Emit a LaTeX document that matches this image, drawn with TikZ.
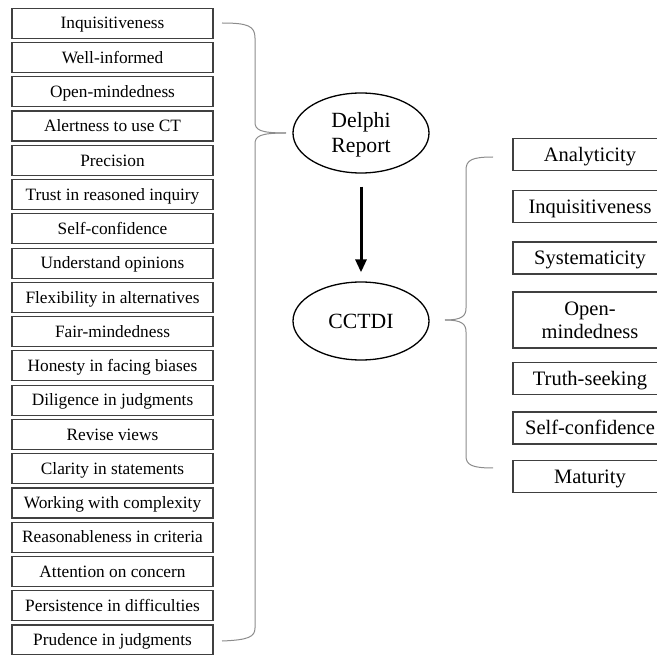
\documentclass[tikz,border=0pt]{standalone}
\usepackage{fontspec}
\setmainfont{Liberation Serif}
\usetikzlibrary{shapes.geometric,arrows.meta}

\tikzset{
  leftbox/.style={draw=black!75, line width=1.2pt, minimum width=201pt, minimum height=30pt,
    inner sep=0pt, text height=15pt, text depth=3.6pt,
    font=\fontsize{17.3}{20}\selectfont, text=black},
  rightbox/.style={draw=black!75, line width=1.2pt, minimum width=154pt, minimum height=32pt,
    inner sep=0pt, font=\fontsize{20.5}{23}\selectfont, text=black, align=center},
  oneline/.style={text height=17pt, text depth=3.4pt},
  oval/.style={ellipse, draw=black, line width=1.3pt, minimum width=136pt, minimum height=80pt,
    inner sep=0pt, font=\fontsize{21.7}{25}\selectfont, align=center},
  bracket/.style={draw=black!45, line width=1pt},
  flow/.style={line width=3pt, -{Triangle[length=13pt,width=11pt]}}
}

\begin{document}
\begin{tikzpicture}[x=1pt,y=-1pt]
\useasboundingbox (0,0) rectangle (657,655);
\clip (0,0) rectangle (657,655);

% Delphi dispositions, one box per row
\foreach \txt [count=\i from 0] in {
  Inquisitiveness, Well-informed, Open-mindedness, Alertness to use CT, Precision,
  Trust in reasoned inquiry, Self-confidence, Understand opinions,
  Flexibility in alternatives, Fair-mindedness, Honesty in facing biases,
  Diligence in judgments, Revise views, Clarity in statements,
  Working with complexity, Reasonableness in criteria, Attention on concern,
  Persistence in difficulties, Prudence in judgments}
  \node[leftbox] (d\i) at (112.5, 23.3+34.26*\i) {\txt};

% the two central instruments
\node[oval] (delphi) at (361,133) {\rule{0pt}{18pt}Delphi\\Report};
\node[oval, minimum height=78pt] (cctdi) at (361,321) {CCTDI};
\draw[flow, shorten <=13pt, shorten >=9pt] (delphi) -- (cctdi);

% CCTDI subscales
\node[rightbox, oneline] (r1) at (590,154.5) {Analyticity};
\node[rightbox, oneline] (r2) at (590,206.5) {Inquisitiveness};
\node[rightbox, oneline] (r3) at (590,258) {Systematicity};
\node[rightbox, minimum height=56pt] (r4) at (590,320) {Open-\\mindedness};
\node[rightbox, oneline] (r5) at (590,378.5) {Truth-seeking};
\node[rightbox, oneline] (r6) at (590,428) {Self-confidence};
\node[rightbox, oneline] (r7) at (590,476.5) {Maturity};

% left brace gathering the 19 dispositions into the Delphi Report
\coordinate (lt) at (222,23);
\coordinate (ltip) at (286,133);
\coordinate (lb) at (222,641);
\draw[bracket] (lt) .. controls (248,23) and (255,26) .. (255,38) -- (255,122)
  .. controls (255,130) and (260,133) .. (ltip);
\draw[bracket] (ltip) .. controls (260,133) and (255,136) .. (255,144) -- (255,628)
  .. controls (255,637) and (248,640) .. (lb);

% right brace expanding CCTDI into its seven subscales
\coordinate (rt) at (493,157);
\coordinate (rtip) at (445,320);
\coordinate (rb) at (493,468);
\draw[bracket] (rt) .. controls (472,157) and (466,160) .. (466,170) -- (466,308)
  .. controls (466,316) and (462,320) .. (rtip);
\draw[bracket] (rtip) .. controls (462,320) and (466,324) .. (466,332) -- (466,456)
  .. controls (466,465) and (472,468) .. (rb);
\end{tikzpicture}
\end{document}
